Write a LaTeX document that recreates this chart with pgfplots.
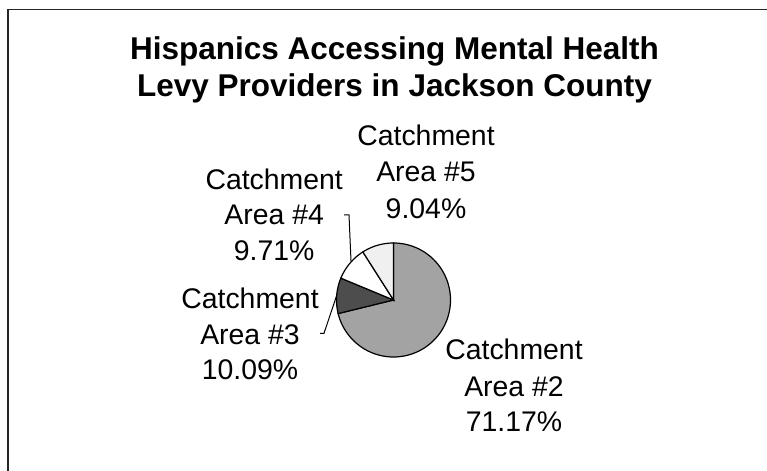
\documentclass[border=0pt]{standalone}
\usepackage{pgfplots}
\pgfplotsset{compat=1.18}
\usepackage{fontspec}
\setmainfont{Liberation Sans}
\definecolor{sliceA}{HTML}{A3A3A3}
\definecolor{sliceB}{HTML}{4D4D4D}
\definecolor{sliceC}{HTML}{FFFFFF}
\definecolor{sliceD}{HTML}{F0F0F0}
% shares in percent
\def\pTwo{71.17}
\def\pThree{10.09}
\def\pFour{9.71}
\def\pFive{9.04}
\pgfmathsetmacro\aA{0}
\pgfmathsetmacro\aB{\aA+3.6*\pTwo}
\pgfmathsetmacro\aC{\aB+3.6*\pThree}
\pgfmathsetmacro\aD{\aC+3.6*\pFour}
\pgfmathsetmacro\aE{360}
\def\cx{393.5}
\def\cy{300}
\def\rr{57}
\begin{document}
\begin{tikzpicture}
\useasboundingbox (0,0) rectangle (383.5pt,235.5pt);
\begin{axis}[at={(0,0)},anchor=south west,scale only axis,
  width=383.5pt,height=235.5pt,xmin=0,xmax=767,ymin=0,ymax=471,
  y dir=reverse,hide axis,clip=false]
\draw[line width=0.75pt,black!85] (axis cs:8,471) -- (axis cs:8,9.5) -- (axis cs:767,9.5);
\addplot[fill=sliceA,draw=black,line width=0.6pt,domain=\aA:\aB,samples=120,variable=\t]
  ({\cx+\rr*sin(\t)},{\cy-\rr*cos(\t)}) -- (axis cs:\cx,\cy) -- cycle;
\addplot[fill=sliceB,draw=black,line width=0.6pt,domain=\aB:\aC,samples=25,variable=\t]
  ({\cx+\rr*sin(\t)},{\cy-\rr*cos(\t)}) -- (axis cs:\cx,\cy) -- cycle;
\addplot[fill=sliceC,draw=black,line width=0.6pt,domain=\aC:\aD,samples=25,variable=\t]
  ({\cx+\rr*sin(\t)},{\cy-\rr*cos(\t)}) -- (axis cs:\cx,\cy) -- cycle;
\addplot[fill=sliceD,draw=black,line width=0.6pt,domain=\aD:\aE,samples=25,variable=\t]
  ({\cx+\rr*sin(\t)},{\cy-\rr*cos(\t)}) -- (axis cs:\cx,\cy) -- cycle;
% leader lines
\addplot[black,line width=0.5pt] coordinates {(344,215) (349,215) (351,261)};
\addplot[black,line width=0.5pt] coordinates {(320,333.3) (324,333.3) (336.5,296)};
% title
\node[anchor=base,font=\fontsize{15.75}{18}\selectfont\bfseries] at (axis cs:394.5,60) {Hispanics Accessing Mental Health};
\node[anchor=base,font=\fontsize{15.75}{18}\selectfont\bfseries] at (axis cs:394.5,96.5) {Levy Providers in Jackson County};
% labels
\tikzset{lbl/.style={anchor=base,font=\fontsize{14.2}{16}\selectfont}}
\node[lbl] at (axis cs:426,146) {Catchment};
\node[lbl] at (axis cs:426,181.7) {Area \#5};
\node[lbl] at (axis cs:426,218.3) {9.04\%};
\node[lbl] at (axis cs:274.2,189.3) {Catchment};
\node[lbl] at (axis cs:274.2,225) {Area \#4};
\node[lbl] at (axis cs:274.2,260.5) {9.71\%};
\node[lbl] at (axis cs:250,308.3) {Catchment};
\node[lbl] at (axis cs:250,344.3) {Area \#3};
\node[lbl] at (axis cs:250,380) {10.09\%};
\node[lbl] at (axis cs:514,360) {Catchment};
\node[lbl] at (axis cs:514,396) {Area \#2};
\node[lbl] at (axis cs:514,431.7) {71.17\%};
\end{axis}
\end{tikzpicture}
\end{document}
